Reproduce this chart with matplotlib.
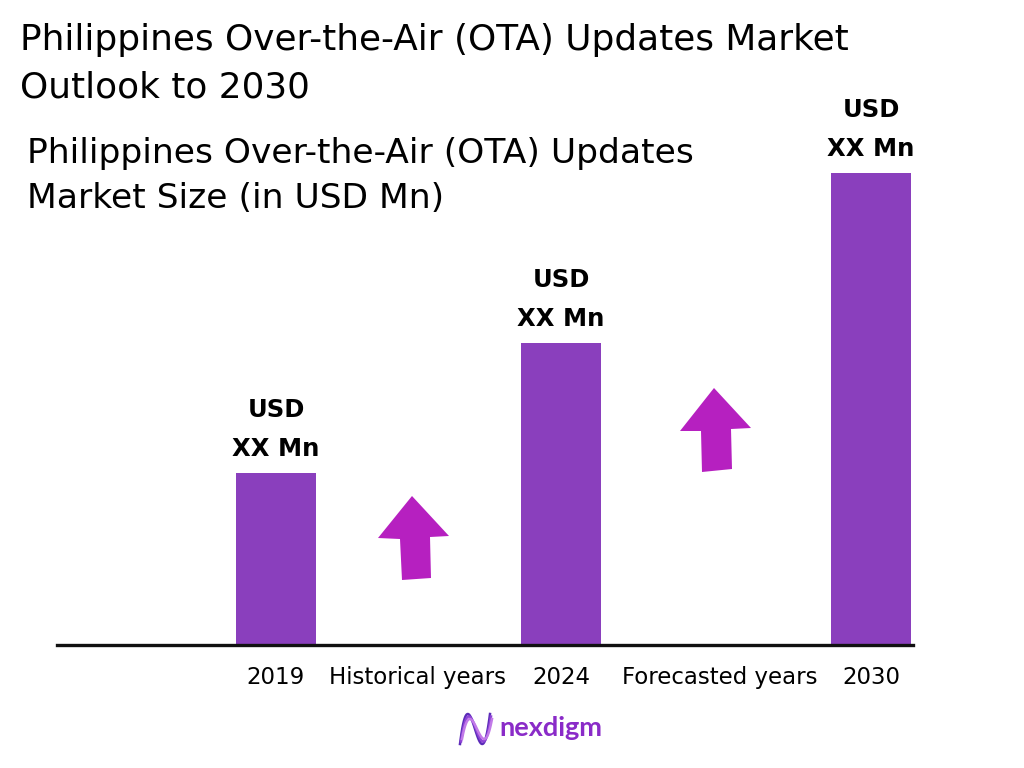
import numpy as np
import matplotlib.pyplot as plt
from matplotlib.patches import Polygon

# chart data
years = ["2019", "2024", "2030"]
market_size = [1.72, 3.02, 4.72]  # relative heights, values shown as "XX"
value_labels = ["USD\nXX Mn", "USD\nXX Mn", "USD\nXX Mn"]
slot_labels = ["2019", "Historical years", "2024", "Forecasted years", "2030"]

title_lines = ["Philippines Over-the-Air (OTA) Updates Market", "Outlook to 2030"]
subtitle_lines = ["Philippines Over-the-Air (OTA) Updates", "Market Size (in USD Mn)"]

BAR_COLOR = "#8A3FBD"
ARROW_COLOR = "#B620C0"
W, H = 1024, 768

# slot positions along x (bars sit on slots 0, 2, 4)
slot_pos = [0, 0.948, 1.916, 2.985, 4.0]
bar_pos = [slot_pos[0], slot_pos[2], slot_pos[4]]


def px(x, y):
    """pixel coords (top-left origin) -> figure fraction"""
    return x / W, 1 - y / H


def arrow(fig, pts):
    poly = Polygon([px(x, y) for x, y in pts], closed=True,
                   transform=fig.transFigure, color=ARROW_COLOR, lw=0)
    fig.patches.append(poly)


fig = plt.figure(figsize=(10.24, 7.68), dpi=100)
ax = fig.add_axes([57 / W, 1 - 645 / H, (913 - 57) / W, 645 / H])

ax.bar(bar_pos, market_size, width=80 / 148.75, color=BAR_COLOR, zorder=2)
ax.set_xlim(-1.472, 4.282)
ax.set_ylim(0, 6.45)

for x, v, lab in zip(bar_pos, market_size, value_labels):
    usd, mn = lab.split("\n")
    ax.annotate(mn, (x, v), xytext=(0, 17), textcoords="offset pixels",
                ha="center", va="baseline", fontsize=17.5, fontweight="bold",
                family="DejaVu Sans")
    ax.annotate(usd, (x, v), xytext=(0, 56), textcoords="offset pixels",
                ha="center", va="baseline", fontsize=17.5, fontweight="bold",
                family="DejaVu Sans")

ax.set_xticks(slot_pos)
ax.set_xticklabels(slot_labels, fontsize=16.5, family="DejaVu Sans")
ax.tick_params(axis="x", length=0, pad=15)
ax.set_yticks([])
for s in ["top", "left", "right"]:
    ax.spines[s].set_visible(False)
ax.spines["bottom"].set_linewidth(2.4)
ax.spines["bottom"].set_color("#111111")

# titles
fig.text(*px(20, 50), title_lines[0], fontsize=25.8, family="DejaVu Sans", va="baseline")
fig.text(*px(20, 98), title_lines[1], fontsize=25.8, family="DejaVu Sans", va="baseline")
fig.text(*px(27, 163), subtitle_lines[0], fontsize=24.8, family="DejaVu Sans", va="baseline")
fig.text(*px(27, 208), subtitle_lines[1], fontsize=24.8, family="DejaVu Sans", va="baseline")

# growth arrows
arrow(fig, [(412, 496), (449, 536), (430, 537), (431, 578), (402, 580),
            (400, 539), (378, 538)])
arrow(fig, [(714, 388), (751, 428), (731, 429), (732, 469), (702, 472),
            (701, 431), (680, 431)])

# logo mark: N-shaped wave
t = np.linspace(0, 1, 80)
s = 3 * t ** 2 - 2 * t ** 3
for k, d in enumerate([0, 2.5, 5]):
    xs = 460 + d * 0.4 + 30 * s
    ys = 729 + (15 - d) * np.cos(3 * np.pi * t)
    fx, fy = zip(*[px(x, y) for x, y in zip(xs, ys)])
    fig.lines.append(plt.Line2D(fx, fy, transform=fig.transFigure,
                                color=["#5B2BB8", "#8E44D6", "#C27AE8"][k], lw=1.8))
fig.text(*px(499, 736), "nexdigm", fontsize=19.5, fontweight="bold",
         family="Lato", color="#8A2BC8", va="baseline")

fig.savefig("out.png", dpi=100)
